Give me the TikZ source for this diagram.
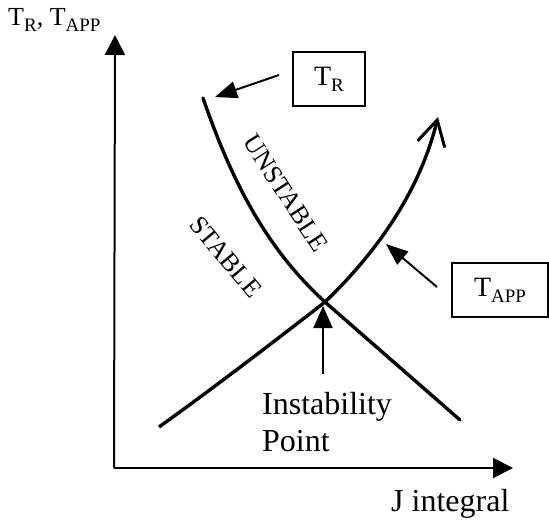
\documentclass[tikz,border=0pt]{standalone}
\usepackage{fontspec}
\setmainfont{Liberation Serif}
\usetikzlibrary{arrows.meta}
\newcommand{\sbs}[1]{\raisebox{-6pt}{\fontsize{19}{20}\selectfont #1}}
\begin{document}
\begin{tikzpicture}[x=1pt,y=-1pt,
  curve/.style={line width=3.4pt},
  axisline/.style={line width=2pt,-{Triangle[length=20pt,width=20pt]}},
  pointer/.style={line width=2pt,-{Triangle[length=22pt,width=17pt]}},
  labelbox/.style={draw,line width=1.4pt,minimum width=72pt,minimum height=54pt,inner sep=0pt,font=\fontsize{28}{30}\selectfont},
  bigtext/.style={inner sep=0pt,font=\fontsize{32}{37}\selectfont},
  slanted/.style={inner sep=0pt,font=\fontsize{26}{28}\selectfont}]
\useasboundingbox (0,0) rectangle (549,524);
% axes
\coordinate (origin) at (114,468);
\coordinate (ytip) at (115,35);
\coordinate (xtip) at (513,468);
\draw[axisline] (origin) -- (ytip);
\draw[axisline] (origin) -- (xtip);
\node[inner sep=0pt,anchor=base west,font=\fontsize{26}{28}\selectfont] (ylab) at (8,26) {T\sbs{R}, T\sbs{APP}};
\node[bigtext,anchor=base west] (xlab) at (391,511) {J integral};
% curves
\coordinate (cross) at (325,302);
\coordinate (trs) at (203,98);
\coordinate (tre) at (460,420);
\coordinate (tas) at (159,427);
\coordinate (tae) at (438,117);
\draw[curve,line cap=round] (trs) .. controls (233,185) and (268,250) .. (cross) -- (tre);
\draw[curve,-{Straight Barb[length=25pt,width=28pt,line width=3pt]}]
   (tas) .. controls (215,387) and (280,337) .. (cross)
   .. controls (405,225) and (428,157) .. (tae);
% boxes and pointers
\node[labelbox] (trbox) at (329,79) {T\sbs{R}};
\node[labelbox,minimum width=96pt] (tappbox) at (500,290) {T\sbs{APP}};
\coordinate (trtail) at (279,75);
\coordinate (trhead) at (215,97);
\draw[pointer] (trtail) -- (trhead);
\coordinate (tatail) at (437,287);
\coordinate (tahead) at (386,244);
\draw[pointer] (tatail) -- (tahead);
\coordinate (ipttail) at (323,374);
\coordinate (ipthead) at (323,306);
\draw[pointer,-{Triangle[length=22pt,width=19pt]}] (ipttail) -- (ipthead);
\node[bigtext,anchor=north west,align=left] (ipt) at (262,392) {Instability\\Point};
% region labels
\node[slanted,rotate=-57] (unstable) at (286,193) {UNSTABLE};
\node[slanted,rotate=-50] (stable) at (226,257) {STABLE};
\end{tikzpicture}
\end{document}
